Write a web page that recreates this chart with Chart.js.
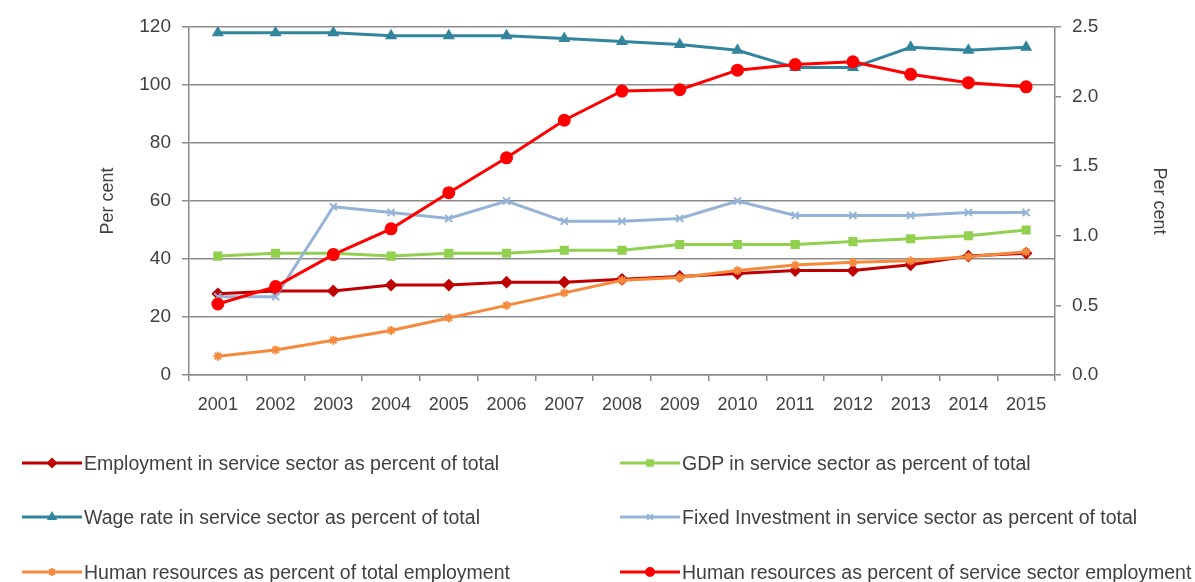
<!DOCTYPE html>
<html>
<head>
<meta charset="utf-8">
<script src="https://cdn.jsdelivr.net/npm/chart.js@4.4.1/dist/chart.umd.min.js"></script>
<style>
  html, body { margin: 0; padding: 0; background: #fff; }
  #wrap { position: relative; width: 1195px; height: 582px; }
  #legend { position: absolute; left: 0; top: 0; width: 1195px; height: 582px;
            font-family: "Liberation Sans", Arial, sans-serif; font-size: 19.5px; color: #404040; }
  .item { position: absolute; display: flex; align-items: center; white-space: nowrap; height: 20px; }
  .item canvas { display: block; }
</style>
</head>
<body>
<div id="wrap">
  <canvas id="myChart" width="1195" height="582"></canvas>
  <div id="legend"></div>
</div>
<script>
var years = ['2001', '2002', '2003', '2004', '2005', '2006', '2007', '2008', '2009', '2010', '2011', '2012', '2013', '2014', '2015'];

// left axis (per cent)
var employment = [28, 29, 29, 31, 31, 32, 32, 33, 34, 35, 36, 36, 38, 41, 42];
var gdp = [41, 42, 42, 41, 42, 42, 43, 43, 45, 45, 45, 46, 47, 48, 50];
var wage = [118, 118, 118, 117, 117, 117, 116, 115, 114, 112, 106, 106, 113, 112, 113];
var investment = [27, 27, 58, 56, 54, 60, 53, 53, 54, 60, 55, 55, 55, 56, 56];

// right axis (per cent)
var hrTotal = [0.135, 0.18, 0.25, 0.32, 0.41, 0.5, 0.59, 0.68, 0.7, 0.75, 0.79, 0.81, 0.82, 0.85, 0.885];
var hrService = [0.51, 0.635, 0.865, 1.05, 1.31, 1.56, 1.83, 2.04, 2.05, 2.19, 2.23, 2.25, 2.16, 2.1, 2.07];

var leftTicks = [0, 20, 40, 60, 80, 100, 120];
var rightTicks = [0, 0.5, 1, 1.5, 2, 2.5];

var gridColor = '#8c8c8c';
var textColor = '#404040';
var fontFamily = '"Liberation Sans", Arial, sans-serif';

function series(label, data, color, style, radius, axis, order) {
  return {
    label: label, data: data, yAxisID: axis, order: order,
    borderColor: color, backgroundColor: color, borderWidth: 3,
    pointStyle: style, pointRadius: radius, pointBorderWidth: 2,
    pointBackgroundColor: color, pointBorderColor: color,
    tension: 0, fill: false
  };
}

var datasets = [
  series('Employment in service sector as percent of total', employment, '#C00000', 'rectRot', 5, 'y', 5),
  series('GDP in service sector as percent of total', gdp, '#92D050', 'rect', 5, 'y', 4),
  series('Wage rate in service sector as percent of total', wage, '#31859C', 'triangle', 5, 'y', 3),
  series('Fixed Investment in service sector as percent of total', investment, '#95B3D7', 'crossRot', 5, 'y', 2),
  series('Human resources as percent of total employment', hrTotal, '#F58A3C', 'star', 4.5, 'y1', 1),
  series('Human resources as percent of service sector employment', hrService, '#FF0000', 'circle', 5.5, 'y1', 0)
];

var ctx = document.getElementById('myChart').getContext('2d');
var chart = new Chart(ctx, {
  type: 'line',
  data: { labels: years, datasets: datasets },
  options: {
    responsive: false,
    animation: false,
    devicePixelRatio: 1,
    layout: { padding: { top: 27, bottom: 157, left: 0, right: 0 } },
    plugins: { legend: { display: false }, tooltip: { enabled: false } },
    scales: {
      x: {
        offset: true,
        grid: { offset: true, drawOnChartArea: false, color: gridColor, lineWidth: 1.5, tickLength: 6 },
        border: { color: gridColor, width: 1.5 },
        ticks: { color: textColor, font: { family: fontFamily, size: 18 }, padding: 13, maxRotation: 0 },
        afterFit: function (s) { s.height = 50; }
      },
      y: {
        position: 'left', min: 0, max: 120,
        afterBuildTicks: function (s) { s.ticks = leftTicks.map(function (v) { return { value: v }; }); },
        grid: { color: gridColor, lineWidth: 1.5, tickLength: 7 },
        border: { color: gridColor, width: 1.5 },
        ticks: { color: textColor, font: { family: fontFamily, size: 19 }, padding: 11 },
        title: { display: true, text: 'Per cent', color: textColor, font: { family: fontFamily, size: 18 }, padding: { top: 97 } },
        afterFit: function (s) { s.width = 189; }
      },
      y1: {
        position: 'right', min: 0, max: 2.5,
        afterBuildTicks: function (s) { s.ticks = rightTicks.map(function (v) { return { value: v }; }); },
        grid: { drawOnChartArea: false, color: gridColor, lineWidth: 1.5, tickLength: 6 },
        border: { color: gridColor, width: 1.5 },
        ticks: { color: textColor, font: { family: fontFamily, size: 19 }, padding: 11,
                 callback: function (v) { return Number(v).toFixed(1); } },
        title: { display: true, text: 'Per cent', color: textColor, font: { family: fontFamily, size: 18 }, padding: { top: 25 } },
        afterFit: function (s) { s.width = 140; }
      }
    }
  }
});

// legend: two columns, three rows, like the original
var legendPos = [
  { x: 22, y: 463, w: 60 }, { x: 620, y: 463, w: 60 },
  { x: 22, y: 517, w: 60 }, { x: 620, y: 517, w: 60 },
  { x: 22, y: 572, w: 60 }, { x: 620, y: 572, w: 60 }
];
var legend = document.getElementById('legend');
datasets.forEach(function (ds, i) {
  var p = legendPos[i];
  var item = document.createElement('div');
  item.className = 'item';
  item.style.left = p.x + 'px';
  item.style.top = (p.y - 10) + 'px';
  var sw = document.createElement('canvas');
  sw.width = p.w; sw.height = 20;
  var c = sw.getContext('2d');
  c.strokeStyle = ds.borderColor; c.lineWidth = 3;
  c.beginPath(); c.moveTo(0, 10); c.lineTo(p.w, 10); c.stroke();
  c.fillStyle = ds.backgroundColor; c.lineWidth = 2;
  Chart.helpers.drawPoint(c, { pointStyle: ds.pointStyle, radius: 4, borderWidth: 2 }, p.w / 2, 10);
  var span = document.createElement('span');
  span.textContent = ds.label;
  span.style.marginLeft = '2px';
  item.appendChild(sw);
  item.appendChild(span);
  legend.appendChild(item);
});
</script>
</body>
</html>
